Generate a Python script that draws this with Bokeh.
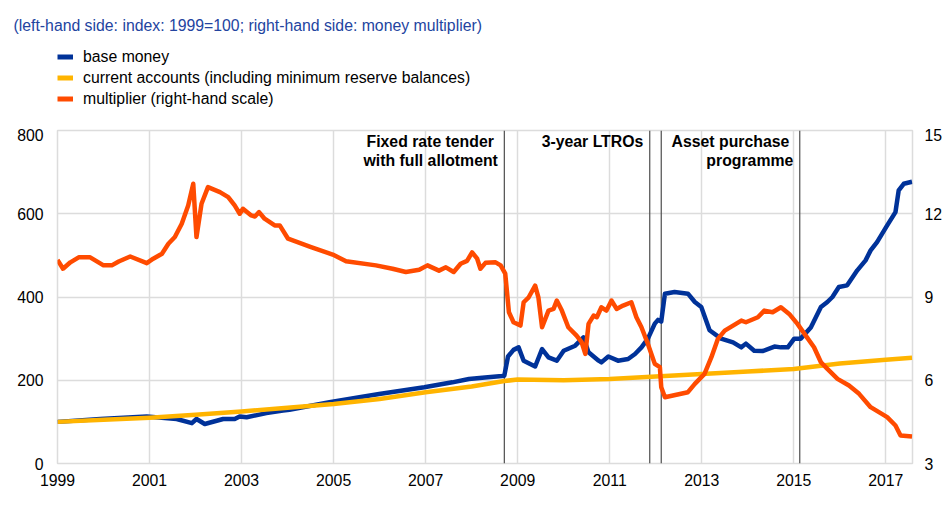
from bokeh.plotting import figure
from bokeh.layouts import column
from bokeh.models import (Range1d, LinearAxis, Span, Label, Legend, LegendItem,
                          FixedTicker, ColumnDataSource)
from bokeh.embed import file_html
from bokeh.resources import INLINE

# ---------------- data ----------------
base_years = [1999.00, 1999.93, 2000.94, 2001.59, 2001.92, 2002.02, 2002.20, 2002.60, 2002.85,
              2002.96, 2003.11, 2003.54, 2003.90, 2004.04, 2004.91, 2005.56, 2005.99, 2006.97,
              2007.58, 2007.94, 2008.23, 2008.66, 2008.71, 2008.79, 2008.91, 2009.02, 2009.13,
              2009.38, 2009.53, 2009.67, 2009.85, 2010.00, 2010.25, 2010.43, 2010.54, 2010.76,
              2010.82, 2010.97, 2011.18, 2011.40, 2011.55, 2011.69, 2011.83, 2011.98, 2012.05,
              2012.12, 2012.20, 2012.41, 2012.70, 2012.85, 2012.99, 2013.17, 2013.42, 2013.68,
              2013.86, 2013.96, 2014.14, 2014.32, 2014.58, 2014.72, 2014.87, 2015.01, 2015.15,
              2015.37, 2015.59, 2015.73, 2015.84, 2015.98, 2016.16, 2016.38, 2016.56, 2016.67,
              2016.81, 2017.03, 2017.21, 2017.28, 2017.39, 2017.57]
base_values = [100, 107, 113, 107, 97, 107, 95, 107, 107,
               113, 111, 121, 127, 129, 147, 159, 167, 183,
               195, 203, 206, 210, 211, 257, 273, 279, 247,
               233, 275, 255, 247, 271, 283, 303, 267, 247,
               243, 257, 247, 251, 263, 279, 300, 336, 345,
               341, 408, 412, 408, 388, 376, 320, 300, 291,
               279, 288, 271, 270, 281, 279, 279, 300, 300,
               327, 376, 388, 400, 424, 428, 464, 488, 512,
               532, 572, 604, 656, 672, 677]

ca_years = [1999.0, 2000.0, 2001.0, 2002.0, 2003.0, 2004.0, 2005.0, 2006.0, 2007.0, 2008.0,
            2008.71, 2009.0, 2010.0, 2011.0, 2012.0, 2013.0, 2014.0, 2015.0, 2016.0, 2017.0,
            2017.57]
ca_values = [100, 105, 110, 117, 125, 134, 143, 155, 171, 185,
             198, 202, 200, 203, 209, 215, 221, 227, 240, 249,
             254]

mult_years = [1999.00, 1999.12, 1999.28, 1999.46, 1999.71, 2000.00, 2000.18, 2000.33, 2000.58,
              2000.94, 2001.08, 2001.27, 2001.41, 2001.55, 2001.70, 2001.84, 2001.95, 2002.02,
              2002.13, 2002.27, 2002.53, 2002.71, 2002.85, 2002.96, 2003.03, 2003.21, 2003.29,
              2003.38, 2003.50, 2003.72, 2003.83, 2004.01, 2004.51, 2004.98, 2005.27, 2005.92,
              2006.28, 2006.57, 2006.86, 2007.04, 2007.29, 2007.44, 2007.61, 2007.76, 2007.90,
              2008.01, 2008.12, 2008.19, 2008.30, 2008.52, 2008.63, 2008.73, 2008.81, 2008.91,
              2009.06, 2009.13, 2009.24, 2009.38, 2009.45, 2009.53, 2009.67, 2009.78, 2009.85,
              2009.96, 2010.10, 2010.28, 2010.39, 2010.47, 2010.54, 2010.65, 2010.72, 2010.82,
              2010.93, 2011.04, 2011.15, 2011.29, 2011.47, 2011.58, 2011.69, 2011.83, 2011.98,
              2012.09, 2012.12, 2012.20, 2012.70, 2012.85, 2013.06, 2013.21, 2013.35, 2013.50,
              2013.86, 2013.96, 2014.22, 2014.36, 2014.54, 2014.72, 2014.90, 2015.08, 2015.26,
              2015.44, 2015.59, 2015.73, 2015.95, 2016.20, 2016.42, 2016.67, 2017.03, 2017.21,
              2017.32, 2017.57]
mult_values = [10.34, 10.02, 10.25, 10.43, 10.43, 10.14, 10.14, 10.28, 10.46,
               10.22, 10.38, 10.56, 10.92, 11.16, 11.64, 12.30, 13.08, 11.16,
               12.36, 12.96, 12.78, 12.60, 12.30, 12.00, 12.18, 11.94, 11.90,
               12.06, 11.82, 11.58, 11.58, 11.10, 10.80, 10.53, 10.29, 10.14,
               10.02, 9.90, 9.98, 10.14, 9.95, 10.07, 9.90, 10.20, 10.30,
               10.61, 10.38, 10.02, 10.23, 10.25, 10.14, 9.84, 8.45, 8.09,
               7.97, 8.81, 8.99, 9.41, 8.99, 7.91, 8.51, 8.57, 8.87,
               8.51, 7.91, 7.61, 7.37, 6.95, 8.03, 8.33, 8.27, 8.63,
               8.51, 8.87, 8.57, 8.69, 8.81, 8.27, 7.91, 7.31, 6.59,
               6.47, 5.75, 5.39, 5.57, 5.87, 6.23, 6.83, 7.49, 7.79,
               8.15, 8.09, 8.27, 8.51, 8.45, 8.63, 8.39, 8.03, 7.61,
               7.19, 6.65, 6.41, 6.05, 5.81, 5.51, 5.03, 4.67, 4.37,
               4.01, 3.97]

event_dates = [2008.71, 2011.87, 2012.12, 2015.13]
event_text_lines = [("Fixed rate tender", 2008.71, 0), ("with full allotment", 2008.71, 1),
                    ("3-year LTROs", 2011.87, 0),
                    ("Asset purchase", 2015.13, 0), ("programme", 2015.13, 1)]

year_ticks = [1999, 2001, 2003, 2005, 2007, 2009, 2011, 2013, 2015, 2017]
left_ticks = [0, 200, 400, 600, 800]
right_ticks = [3, 6, 9, 12, 15]

series_labels = ["base money",
                 "current accounts (including minimum reserve balances)",
                 "multiplier (right-hand scale)"]
title_text = "(left-hand side: index: 1999=100; right-hand side: money multiplier)"

# ---------------- styling ----------------
FONT = "Liberation Sans"
FS = "15.8px"
BLUE = "#003299"
YELLOW = "#ffb400"
ORANGE = "#ff4b00"
GRID = "#dcdcdc"
W = 945
TOP_H = 128
LW = 4.5

src_b = ColumnDataSource(dict(x=base_years, y=base_values))
src_c = ColumnDataSource(dict(x=ca_years, y=ca_values))
src_m = ColumnDataSource(dict(x=mult_years, y=mult_values))

# ---------------- header figure: title + legend ----------------
# (its y range lies above every value, so its lines only feed the legend glyphs)
head = figure(width=W, height=TOP_H, output_backend="svg", toolbar_location=None,
              x_range=Range1d(1999, 2017.58), y_range=Range1d(1000, 1100),
              x_axis_location=None, y_axis_location=None,
              min_border_top=38, min_border_bottom=0)
head.grid.visible = False
head.outline_line_color = None
head.title.text = title_text
head.title.align = "left"
head.title.offset = -44
head.title.standoff = 10
head.title.text_font = FONT
head.title.text_font_size = FS
head.title.text_font_style = "normal"
head.title.text_color = "#23449f"

lg_b = head.line("x", "y", source=src_b, line_color=BLUE, line_width=5)
lg_c = head.line("x", "y", source=src_c, line_color=YELLOW, line_width=5)
lg_m = head.line("x", "y", source=src_m, line_color=ORANGE, line_width=5)
legend = Legend(items=[LegendItem(label=series_labels[0], renderers=[lg_b]),
                       LegendItem(label=series_labels[1], renderers=[lg_c]),
                       LegendItem(label=series_labels[2], renderers=[lg_m])],
                location=(0, 19), orientation="vertical",
                glyph_width=16, glyph_height=21, label_height=21, spacing=0,
                padding=0, margin=0, border_line_color=None, background_fill_alpha=0,
                label_standoff=10, label_text_font=FONT, label_text_font_size=FS,
                label_text_color="#000000")
head.add_layout(legend)

# ---------------- main chart ----------------
p = figure(width=W, height=370, output_backend="svg", toolbar_location=None,
           x_range=Range1d(1999, 2017.58), y_range=Range1d(0, 800),
           min_border_left=57, min_border_right=30, min_border_top=2, min_border_bottom=35)
p.extra_y_ranges = {"mult": Range1d(3, 15)}
p.outline_line_color = GRID
p.outline_line_width = 1.5

xa = p.xaxis[0]
xa.ticker = FixedTicker(ticks=year_ticks)
ya = p.yaxis[0]
ya.ticker = FixedTicker(ticks=left_ticks)
ra = LinearAxis(y_range_name="mult", ticker=FixedTicker(ticks=right_ticks))
p.add_layout(ra, "right")

for ax in (xa, ya, ra):
    ax.axis_line_color = None
    ax.major_tick_line_color = None
    ax.minor_tick_line_color = None
    ax.major_tick_out = 0
    ax.major_tick_in = 0
    ax.major_label_text_font = FONT
    ax.major_label_text_font_size = FS
    ax.major_label_text_color = "#000000"
xa.major_label_standoff = 10
ya.major_label_standoff = 14
ra.major_label_standoff = 12

p.xgrid.ticker = FixedTicker(ticks=year_ticks)
p.ygrid.ticker = FixedTicker(ticks=left_ticks)
for g in (p.xgrid[0], p.ygrid[0]):
    g.grid_line_color = GRID
    g.grid_line_width = 1.5

for d in event_dates:
    p.add_layout(Span(location=d, dimension="height", line_color="#4d4d4d",
                      line_width=1.2, level="underlay"))

p.line("x", "y", source=src_b, line_color=BLUE, line_width=LW, line_join="round")
p.line("x", "y", source=src_c, line_color=YELLOW, line_width=LW, line_join="round")
p.line("x", "y", source=src_m, line_color=ORANGE, line_width=LW, line_join="round",
       y_range_name="mult")

offsets = {0: 322, 1: 303.5}
for txt, d, row in event_text_lines:
    xo = -10.5 if txt in ("Fixed rate tender", "Asset purchase") else -6.5
    p.add_layout(Label(x=d, y=offsets[row], y_units="screen", text=txt,
                       x_offset=xo, text_align="right", text_baseline="middle",
                       text_font=FONT, text_font_size=FS, text_font_style="bold",
                       text_color="#000000"))

layout = column(head, p, spacing=0)
open("out.html", "w").write(file_html(layout, INLINE))
